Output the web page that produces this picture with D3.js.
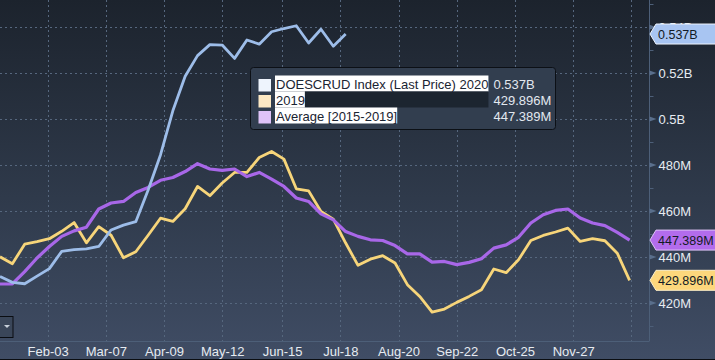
<!DOCTYPE html>
<html>
<head>
<meta charset="utf-8">
<script src="https://cdn.jsdelivr.net/npm/d3@7"></script>
<style>
html, body { margin: 0; padding: 0; background: #2b3545; }
svg { display: block; font-family: "Liberation Sans", Arial, sans-serif; }
</style>
</head>
<body>
<svg width="715" height="360"></svg>
<script>
// weekly crude stocks, millions of barrels (week index from first point)
var firstWeek = "2020-01-07";

var stocks2020 = [431.6, 429.0, 428.4, 431.7, 435.0, 442.5, 443.2, 443.6, 444.6, 451.8,
  453.9, 455.4, 469.2, 484.4, 503.6, 518.6, 527.6, 532.4, 532.2, 526.4,
  534.4, 532.6, 538.0, 539.4, 540.6, 533.1, 539.1, 531.7, 537.0];

var stocks2019 = [440.1, 437.1, 445.6, 446.7, 448.0, 451.2, 455.0, 446.2, 453.2, 449.5,
  439.7, 442.3, 449.5, 456.9, 455.5, 461.0, 470.7, 466.7, 472.2, 476.8,
  476.8, 483.3, 485.9, 482.6, 469.7, 468.8, 459.8, 456.5, 446.1, 436.4,
  439.1, 440.6, 437.4, 428.0, 422.9, 416.1, 417.4, 420.3, 422.9, 425.8,
  434.8, 433.2, 438.8, 447.2, 449.4, 450.9, 452.6, 446.8, 448.0, 447.1,
  441.7, 429.896];

var stocksAvg = [428.3, 428.3, 433.7, 439.6, 444.6, 449.0, 451.4, 453.0, 460.9, 463.5,
  464.2, 468.1, 470.3, 473.4, 474.6, 477.2, 480.6, 478.3, 477.7, 478.3,
  475.0, 476.8, 473.9, 470.7, 465.7, 464.2, 458.8, 456.2, 451.1, 449.0,
  447.5, 447.2, 445.0, 441.4, 441.4, 437.8, 438.1, 436.7, 437.7, 439.3,
  443.9, 445.3, 448.6, 454.8, 458.4, 460.3, 460.9, 457.0, 454.8, 453.7,
  450.7, 447.389];

var legendNames = ["DOESCRUD Index (Last Price) 2020", "2019", "Average [2015-2019]"];
var legendValues = ["0.537B", "429.896M", "447.389M"];

var xTickDates = ["2020-02-03", "2020-03-07", "2020-04-09", "2020-05-12", "2020-06-15",
  "2020-07-18", "2020-08-20", "2020-09-22", "2020-10-25", "2020-11-27", "2020-12-30"];
var xTickLabels = ["Feb-03", "Mar-07", "Apr-09", "May-12", "Jun-15",
  "Jul-18", "Aug-20", "Sep-22", "Oct-25", "Nov-27", ""];

var yTickValues = [420, 440, 460, 480, 500, 520, 540];
var yTickLabels = ["420M", "440M", "460M", "480M", "0.5B", "0.52B", "0.54B"];
var yMinorValues = [410, 430, 450, 470, 490, 510, 530, 550];

var svg = d3.select("svg"),
  width = +svg.attr("width"),
  height = +svg.attr("height");

var plotW = 649, plotH = 341;
var parse = d3.timeParse("%Y-%m-%d");
var start = parse(firstWeek);

var x = d3.scaleTime()
  .domain([start, parse("2021-01-09")])
  .range([0, plotW]);

var y = d3.scaleLinear()
  .domain([403.5, 551.8])
  .range([plotH, 0]);

function weekX(d, i) { return x(d3.timeDay.offset(start, 7 * i)); }

// background
var defs = svg.append("defs");
var grad = defs.append("linearGradient")
  .attr("id", "bg").attr("x1", 0).attr("y1", 0).attr("x2", 0).attr("y2", 1);
grad.append("stop").attr("offset", "0%").attr("stop-color", "#1c232d");
grad.append("stop").attr("offset", "55%").attr("stop-color", "#2f3a4b");
grad.append("stop").attr("offset", "100%").attr("stop-color", "#404d65");

svg.append("rect")
  .attr("width", width).attr("height", height)
  .attr("fill", "url(#bg)");

// grid
var grid = svg.append("g")
  .attr("stroke", "#56677e")
  .attr("stroke-dasharray", "2,3")
  .attr("stroke-width", 1);

grid.selectAll("line.h")
  .data(yTickValues)
  .enter().append("line")
  .attr("x1", 0).attr("x2", plotW)
  .attr("y1", function(d) { return Math.round(y(d)) + 0.5; })
  .attr("y2", function(d) { return Math.round(y(d)) + 0.5; });

grid.selectAll("line.v")
  .data(xTickDates)
  .enter().append("line")
  .attr("x1", function(d) { return Math.round(x(parse(d))) + 0.5; })
  .attr("x2", function(d) { return Math.round(x(parse(d))) + 0.5; })
  .attr("y1", 0).attr("y2", plotH + 4);

// x axis
var xAxis = svg.append("g")
  .attr("transform", "translate(0," + (plotH + 0.5) + ")")
  .call(d3.axisBottom(x)
    .tickValues(xTickDates.map(parse))
    .tickFormat(function(d, i) { return xTickLabels[i]; })
    .tickSize(0)
    .tickPadding(5.5));
xAxis.select(".domain").attr("stroke", "#4d5f78").attr("d", "M0,0H" + plotW);
xAxis.selectAll("text")
  .attr("fill", "#e6ebf1")
  .style("font-size", "13px")
  .style("font-family", "Liberation Sans, Arial, sans-serif");

// y axis on the right
var yAxis = svg.append("g")
  .attr("transform", "translate(" + (plotW + 0.5) + ",0)")
  .call(d3.axisRight(y)
    .tickValues(yTickValues)
    .tickFormat(function(d, i) { return yTickLabels[i]; })
    .tickSize(0)
    .tickPadding(9));
yAxis.select(".domain").attr("stroke", "#4d5f78").attr("d", "M0,0V" + (plotH + 0.5));
yAxis.selectAll("text")
  .attr("fill", "#e6ebf1")
  .style("font-size", "13px")
  .style("font-family", "Liberation Sans, Arial, sans-serif");

yAxis.selectAll("path.arrow")
  .data(yTickValues)
  .enter().append("path")
  .attr("class", "arrow")
  .attr("fill", "#5a6f8c")
  .attr("d", function(d) {
    var c = y(d);
    return "M0," + (c - 2.5) + "L7," + c + "L0," + (c + 2.5) + "Z";
  });

yAxis.selectAll("line.minor")
  .data(yMinorValues)
  .enter().append("line")
  .attr("stroke", "#4d5f78")
  .attr("x1", 0).attr("x2", 4)
  .attr("y1", function(d) { return Math.round(y(d)) + 0.5; })
  .attr("y2", function(d) { return Math.round(y(d)) + 0.5; });

// lines
var line = d3.line()
  .x(weekX)
  .y(function(d) { return y(d); });

var seriesList = [
  { values: stocks2019, color: "#f7d57a", width: 2.8 },
  { values: stocksAvg, color: "#a867e8", width: 3.2 },
  { values: stocks2020, color: "#9dbde9", width: 2.8 }
];

svg.append("g").selectAll("path")
  .data(seriesList)
  .enter().append("path")
  .attr("d", function(d) { return line(d.values); })
  .attr("fill", "none")
  .attr("stroke", function(d) { return d.color; })
  .attr("stroke-width", function(d) { return d.width; })
  .attr("stroke-linejoin", "round");

// last-value flags
var flags = [
  { v: stocks2020[stocks2020.length - 1], label: legendValues[0], fill: "#a8c5f2", edge: "#eef4fd" },
  { v: stocksAvg[stocksAvg.length - 1], label: legendValues[2], fill: "#b36cec", edge: "#dfc3f8" },
  { v: stocks2019[stocks2019.length - 1], label: legendValues[1], fill: "#fdd77c", edge: "#fff0c8" }
];

var flag = svg.append("g").selectAll("g")
  .data(flags)
  .enter().append("g")
  .attr("transform", function(d) { return "translate(" + (plotW + 1) + "," + y(d.v) + ")"; });

flag.append("path")
  .attr("d", "M0,0L6,-10H70V10H6Z")
  .attr("fill", function(d) { return d.fill; })
  .attr("stroke", function(d) { return d.edge; })
  .attr("stroke-width", 1);

flag.append("text")
  .attr("x", 8)
  .attr("y", 4.5)
  .attr("fill", "#121a24")
  .style("font-size", "12.5px")
  .text(function(d) { return d.label; });

// legend box
var legend = svg.append("g").attr("transform", "translate(250.5,67.5)");
legend.append("rect")
  .attr("width", 305).attr("height", 62)
  .attr("rx", 3)
  .attr("fill", "#323e4f")
  .attr("stroke", "#0c1016");

var swatches = ["#eef4fd", "#fde9c4", "#dfc3f8"];
var row = legend.selectAll("g.row")
  .data(legendNames)
  .enter().append("g")
  .attr("transform", function(d, i) { return "translate(0," + (8 + 16 * i) + ")"; });

row.append("rect")
  .attr("x", 8).attr("y", 3.5)
  .attr("width", 12.5).attr("height", 12.5)
  .attr("fill", function(d, i) { return swatches[i]; });

var hiBg = row.append("rect").attr("fill", "#ffffff");
var hiDark = row.append("rect").attr("fill", "#1c2530");

var names = row.append("text")
  .attr("x", 25.5)
  .attr("y", 13.5)
  .attr("fill", "#1a2432")
  .style("font-size", "13px")
  .text(function(d) { return d; });

var fullW = names.nodes()[0].getComputedTextLength() + 1;
names.each(function(d, i) {
  var w = this.getComputedTextLength() + 1;
  d3.select(hiBg.nodes()[i]).attr("x", 24.5).attr("y", 0).attr("width", w).attr("height", 16);
  if (i === 1) {
    d3.select(hiDark.nodes()[i]).attr("x", 24.5 + w).attr("y", 0).attr("width", fullW - w).attr("height", 16);
  }
});

row.append("text")
  .attr("x", 243)
  .attr("y", 13.5)
  .attr("fill", "#e2e8ef")
  .style("font-size", "13px")
  .text(function(d, i) { return legendValues[i]; });

// small dropdown widget, bottom left
svg.append("rect")
  .attr("x", -1).attr("y", 316.5)
  .attr("width", 14).attr("height", 21)
  .attr("fill", "#3a4659")
  .attr("stroke", "#0a0d12");
svg.append("path")
  .attr("d", "M4,325L10,325L7,328Z")
  .attr("fill", "#c8d0da");

svg.append("rect")
  .attr("x", 0).attr("y", 359)
  .attr("width", width).attr("height", 1)
  .attr("fill", "#0b0e12");
</script>
</body>
</html>
